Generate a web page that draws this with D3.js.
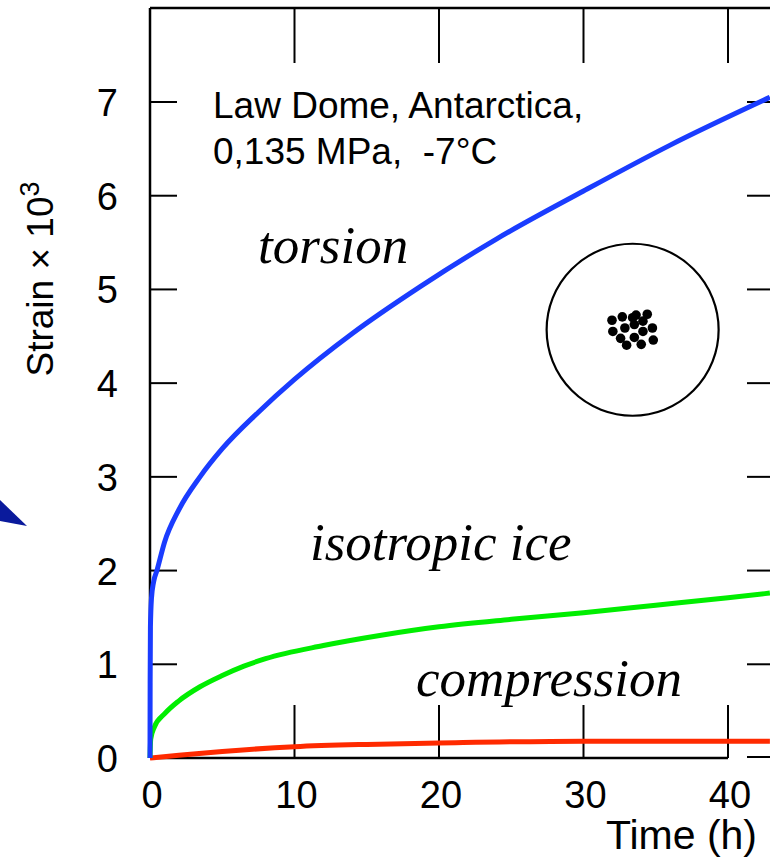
<!DOCTYPE html>
<html>
<head>
<meta charset="utf-8">
<script src="https://cdn.jsdelivr.net/npm/d3@7"></script>
<style>
  body { margin: 0; background: #fff; }
  svg text { font-family: "Liberation Sans", Arial, sans-serif; fill: #000; }
  .lbl { font-family: "Liberation Serif", "Times New Roman", serif; font-style: italic; }
</style>
</head>
<body>
<div id="chart"></div>
<script>
// DATA (time in h, strain x 10^3)
const torsion = [[0,0],[0.01,0.8],[0.03,1.4],[0.1,1.7],[0.25,1.88],[0.48,2.0],[1,2.3],[2,2.65],[3.46,3.0],[5,3.3],[7.5,3.69],[10,4.04],[14,4.53],[18.7,5.03],[24,5.54],[30,6.05],[36,6.54],[42.9,7.05]];
const isotropic = [[0,0],[0.05,0.2],[0.3,0.33],[1,0.47],[2,0.61],[3.46,0.76],[5,0.88],[6.5,0.98],[8,1.06],[12,1.2],[16,1.31],[20,1.4],[25,1.48],[30,1.55],[35,1.63],[40,1.71],[42.9,1.76]];
const compression = [[0,0],[2,0.03],[5,0.07],[10,0.12],[15,0.145],[20,0.16],[30,0.18],[42.9,0.18]];
const xTicks = [0, 10, 20, 30, 40];
const yTicks = [0, 1, 2, 3, 4, 5, 6, 7];
// fabric points on the stereonet, in net units (-1..1)
const fabric = [[-0.24,-0.11],[-0.12,-0.15],[0.0,-0.14],[0.04,-0.17],[0.17,-0.18],[0.12,-0.10],[-0.23,0.02],[-0.09,-0.02],[0.02,-0.06],[0.12,0.02],[0.23,-0.02],[-0.14,0.10],[-0.07,0.18],[0.02,0.09],[0.10,0.17],[0.24,0.12]];
const netCenter = [33.4, 4.57];

const width = 770, height = 860;
const xScale = d3.scaleLinear().domain([0, 40]).range([150, 728]);
const yScale = d3.scaleLinear().domain([0, 7]).range([758, 102]);
const frameTop = 8, frameRight = 770;

const svg = d3.select("#chart").append("svg")
  .attr("width", width).attr("height", height);

// frame
svg.append("line").attr("x1", xScale(0)).attr("x2", frameRight).attr("y1", frameTop).attr("y2", frameTop)
  .attr("stroke", "#000").attr("stroke-width", 2.5);
svg.append("line").attr("x1", xScale(0)).attr("x2", xScale(0)).attr("y1", frameTop).attr("y2", yScale(0))
  .attr("stroke", "#000").attr("stroke-width", 2.5);
svg.append("line").attr("x1", xScale(0)).attr("x2", xScale(40)).attr("y1", yScale(0)).attr("y2", yScale(0))
  .attr("stroke", "#000").attr("stroke-width", 2.5);

// x ticks (inward, bottom and top)
const xt = xTicks.filter(d => d > 0);
svg.selectAll(".xtb").data(xt).join("line")
  .attr("x1", d => xScale(d)).attr("x2", d => xScale(d))
  .attr("y1", yScale(0)).attr("y2", yScale(0) - 53)
  .attr("stroke", "#000").attr("stroke-width", 2);
svg.selectAll(".xtt").data(xt).join("line")
  .attr("x1", d => xScale(d)).attr("x2", d => xScale(d))
  .attr("y1", frameTop).attr("y2", frameTop + 55)
  .attr("stroke", "#000").attr("stroke-width", 2);

// y ticks (inward, left and right)
svg.selectAll(".ytl").data(yTicks.filter(d => d > 0)).join("line")
  .attr("x1", xScale(0)).attr("x2", xScale(0) + 27)
  .attr("y1", d => yScale(d)).attr("y2", d => yScale(d))
  .attr("stroke", "#000").attr("stroke-width", 2);
svg.selectAll(".ytr").data(yTicks).join("line")
  .attr("x1", 747).attr("x2", frameRight)
  .attr("y1", d => yScale(d) - (d === 0 ? 1 : 0)).attr("y2", d => yScale(d) - (d === 0 ? 1 : 0))
  .attr("stroke", "#000").attr("stroke-width", 2);

// tick labels
svg.selectAll(".xl").data(xTicks).join("text")
  .attr("x", d => xScale(d) + 2).attr("y", 808)
  .attr("text-anchor", "middle").style("font-size", "38px")
  .text(d => d);
svg.selectAll(".yl").data(yTicks).join("text")
  .attr("x", 118).attr("y", d => yScale(d) + 14)
  .attr("text-anchor", "end").style("font-size", "38px")
  .text(d => d);

// axis titles
svg.append("text").attr("x", 757).attr("y", 849)
  .attr("text-anchor", "end").style("font-size", "41px").text("Time (h)");
const yt = svg.append("text")
  .attr("transform", "translate(53,279) rotate(-90)")
  .attr("text-anchor", "middle").style("font-size", "37px");
yt.append("tspan").text("Strain \u00d7 10");
yt.append("tspan").attr("dy", -14).style("font-size", "27px").text("3");

// annotation
svg.append("text").attr("x", 213).attr("y", 118).style("font-size", "37px").text("Law Dome, Antarctica,");
svg.append("text").attr("x", 213).attr("y", 164).style("font-size", "37px").style("white-space", "pre")
  .text("0,135 MPa,  -7\u00b0C");

// curves
const line = d3.line().x(d => xScale(d[0])).y(d => yScale(d[1])).curve(d3.curveMonotoneX);
const series = [
  { data: compression, color: "#ff2a00" },
  { data: isotropic, color: "#00ee00" },
  { data: torsion, color: "#1a3cff" }
];
svg.selectAll(".curve").data(series).join("path")
  .attr("fill", "none").attr("stroke", d => d.color).attr("stroke-width", 5)
  .attr("d", d => line(d.data));

// curve labels
svg.append("text").attr("class", "lbl").attr("x", 258).attr("y", 263).style("font-size", "53px").text("torsion");
svg.append("text").attr("class", "lbl").attr("x", 310).attr("y", 560).style("font-size", "53px").text("isotropic ice");
svg.append("text").attr("class", "lbl").attr("x", 416).attr("y", 696).style("font-size", "53px").text("compression");

// stereonet
const netR = 86;
const cx = xScale(netCenter[0]), cy = yScale(netCenter[1]);
svg.append("circle").attr("cx", cx).attr("cy", cy).attr("r", netR)
  .attr("fill", "none").attr("stroke", "#000").attr("stroke-width", 2.2);
const nx = d3.scaleLinear().domain([-1, 1]).range([cx - netR, cx + netR]);
const ny = d3.scaleLinear().domain([-1, 1]).range([cy - netR, cy + netR]);
svg.selectAll(".dot").data(fabric).join("circle")
  .attr("cx", d => nx(d[0])).attr("cy", d => ny(d[1])).attr("r", 4.8).attr("fill", "#000");

// arrowhead remnant on the left edge
svg.append("path")
  .attr("d", d3.line()([[0, 500], [27, 526], [0, 521]]) + "Z")
  .attr("fill", "#0a1a9c");
</script>
</body>
</html>
